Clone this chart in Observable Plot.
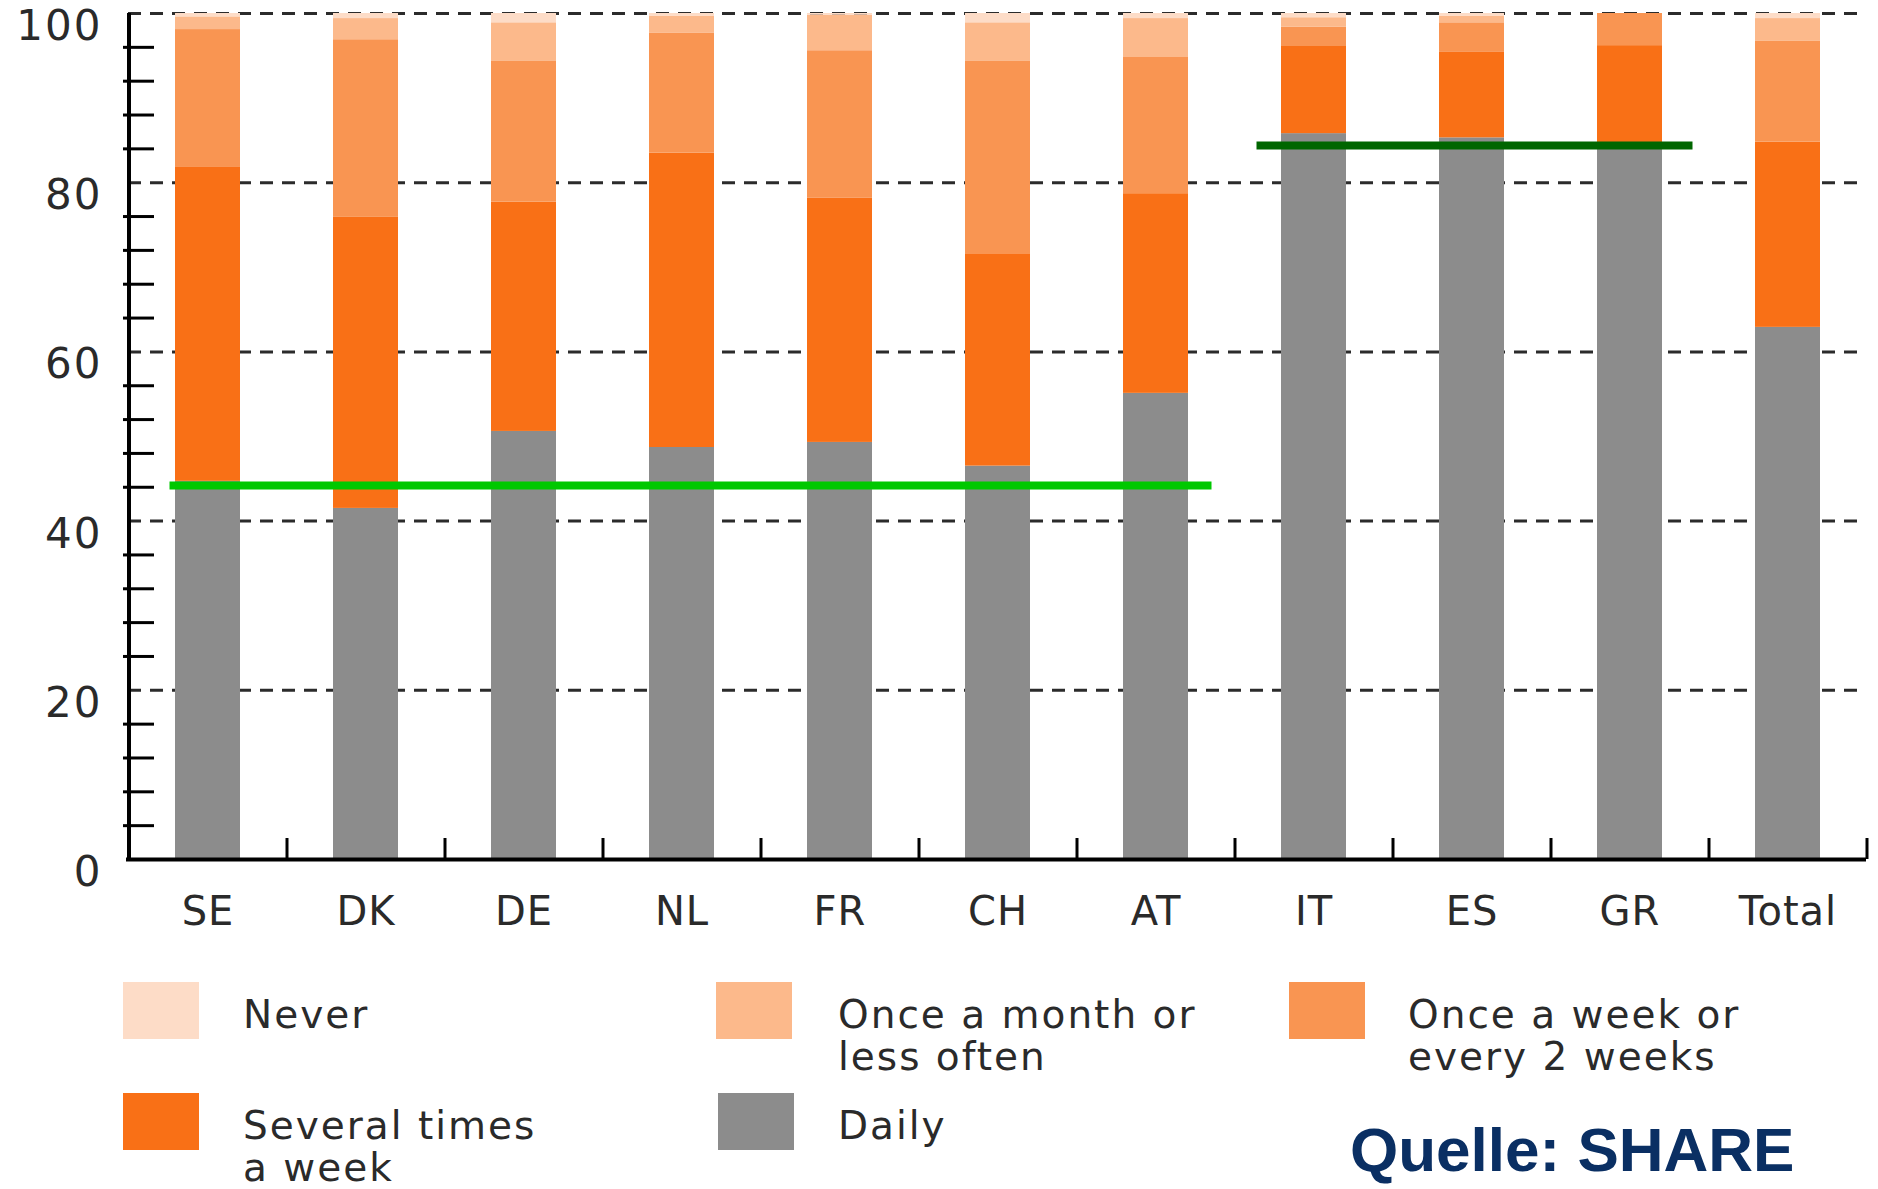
<!DOCTYPE html>
<html>
<head>
<meta charset="utf-8">
<script src="https://cdn.jsdelivr.net/npm/d3@7"></script>
<script src="https://cdn.jsdelivr.net/npm/@observablehq/plot@0.6"></script>
<style>
  body { margin: 0; background: #fff; }
  #page { position: relative; width: 1878px; height: 1189px; overflow: hidden;
          font-family: "DejaVu Sans", sans-serif; color: #2a2a2a; }
  #chart { position: absolute; left: 0; top: 0; }
  #chart text { font-weight: 400; }
  #chart g[aria-label="y-axis tick label"] text { letter-spacing: 2px; }
  #chart g[aria-label="x-axis tick label"] text { letter-spacing: 1px; }
  .sw { position: absolute; width: 76px; height: 57px; }
  .lt { position: absolute; font-size: 39px; line-height: 42px; font-weight: 400;
        letter-spacing: 2px; white-space: pre; }
  #src { position: absolute; left: 1350px; top: 1115px; white-space: nowrap;
         font-family: "Liberation Sans", Arial, sans-serif; font-weight: bold;
         font-size: 62px; line-height: 70px; color: #0a2f63; }
</style>
</head>
<body>
<div id="page">
  <div id="chart"></div>
  <div id="legend"></div>
  <div id="src">Quelle: SHARE</div>
</div>
<script>
// Countries, in drawing order
const countries = ["SE", "DK", "DE", "NL", "FR", "CH", "AT", "IT", "ES", "GR", "Total"];

// Contact frequency shares (percent), stacked bottom to top
const daily   = [44.7, 41.5, 50.6, 48.7, 49.3, 46.5, 55.1, 85.8, 85.3, 84.2, 62.9];
const several = [37.1, 34.4, 27.1, 34.8, 28.9, 25.1, 23.6, 10.3, 10.1, 12.0, 21.9];
const weekly  = [16.3, 21.0, 16.7, 14.2, 17.4, 22.8, 16.1,  2.3,  3.5,  3.8, 11.9];
const monthly = [ 1.5,  2.5,  4.5,  2.0,  4.2,  4.5,  4.6,  1.1,  0.8,  0.0,  2.7];
const never   = [ 0.4,  0.6,  1.1,  0.3,  0.2,  1.1,  0.6,  0.5,  0.3,  0.0,  0.6];

const seriesNames = ["Daily", "Several times a week", "Once a week or every 2 weeks",
                     "Once a month or less often", "Never"];
const seriesValues = [daily, several, weekly, monthly, never];
const seriesColors = ["#8c8c8c", "#f97016", "#f99552", "#fcb98b", "#fddcc7"];

// Legend text (wrapped as printed) in legend order
const legendOrder = ["Never", "Once a month or less often", "Once a week or every 2 weeks",
                     "Several times a week", "Daily"];
const legendText  = ["Never", "Once a month or\nless often", "Once a week or\nevery 2 weeks",
                     "Several times\na week", "Daily"];

// Regional averages of daily contact
const groupFrom  = ["SE", "IT"];
const groupTo    = ["AT", "GR"];
const groupMean  = [44.2, 84.4];
const groupColor = ["#00c800", "#006600"];

const yTicks = [0, 20, 40, 60, 80, 100];
const yMinor = d3.range(4, 100, 4).filter(v => v % 20 !== 0);

// Layout
const W = 1878, H = 960, mL = 128, mR = 12, mT = 13, mB = 101;
const innerW = W - mL - mR, innerH = H - mT - mB;
const step = innerW / countries.length;

const rows = [];
seriesNames.forEach((s, k) =>
  countries.forEach((c, i) => rows.push({country: c, series: s, value: seriesValues[k][i]})));

const groupRule = (g, insetLeft, insetRight) =>
  Plot.ruleY([g], {
    y: i => groupMean[i], x1: i => groupFrom[i], x2: i => groupTo[i],
    stroke: groupColor[g], strokeWidth: 8, insetLeft, insetRight
  });

const chart = Plot.plot({
  width: W, height: H,
  marginLeft: mL, marginRight: mR, marginTop: mT, marginBottom: mB,
  style: {fontFamily: "'DejaVu Sans', sans-serif", color: "#2a2a2a",
          background: "transparent", overflow: "visible"},
  x: {domain: countries, paddingInner: 0.59, paddingOuter: 0.295, label: null},
  y: {domain: [0, 100], label: null},
  color: {domain: seriesNames, range: seriesColors},
  marks: [
    // dashed gridlines
    Plot.ruleY(yTicks.filter(v => v > 0), {stroke: "#2b2b2b", strokeWidth: 3, strokeDasharray: "13,9"}),
    // stacked bars
    Plot.barY(rows, {x: "country", y: "value", fill: "series", order: seriesNames}),
    // group averages
    groupRule(0, -5.5, -23.5),
    groupRule(1, -24.5, -30.5),
    // minor y ticks, drawn inward
    Plot.ruleY(yMinor, {stroke: "#000", strokeWidth: 3, insetLeft: -5, insetRight: innerW - 26}),
    // y axis line
    Plot.ruleX([countries[0]], {x: d => d, y1: 0, y2: 100, dx: -step / 2, stroke: "#000", strokeWidth: 4}),
    // x ticks at band boundaries
    Plot.ruleX(countries, {x: d => d, dx: step / 2, insetTop: innerH - 21, stroke: "#000", strokeWidth: 3}),
    // baseline
    Plot.ruleY([0], {stroke: "#000", strokeWidth: 4, insetLeft: -2}),
    Plot.axisY({ticks: yTicks, tickSize: 0, tickPadding: 26, fontSize: 42, dy: 13, tickFormat: d => d}),
    Plot.axisX({tickSize: 0, tickPadding: 37, fontSize: 40})
  ]
});
document.getElementById("chart").appendChild(chart);

// Legend
const legendPos = [
  {sx: 123, sy: 982, tx: 243},
  {sx: 716, sy: 982, tx: 838},
  {sx: 1289, sy: 982, tx: 1408},
  {sx: 123, sy: 1093, tx: 243},
  {sx: 718, sy: 1093, tx: 838}
];
const legend = document.getElementById("legend");
legendOrder.forEach((name, i) => {
  const p = legendPos[i];
  const sw = document.createElement("div");
  sw.className = "sw";
  sw.style.left = p.sx + "px";
  sw.style.top = p.sy + "px";
  sw.style.background = seriesColors[seriesNames.indexOf(name)];
  legend.appendChild(sw);
  const t = document.createElement("div");
  t.className = "lt";
  t.style.left = p.tx + "px";
  t.style.top = (p.sy + 12) + "px";
  t.textContent = legendText[i];
  legend.appendChild(t);
});
</script>
</body>
</html>
